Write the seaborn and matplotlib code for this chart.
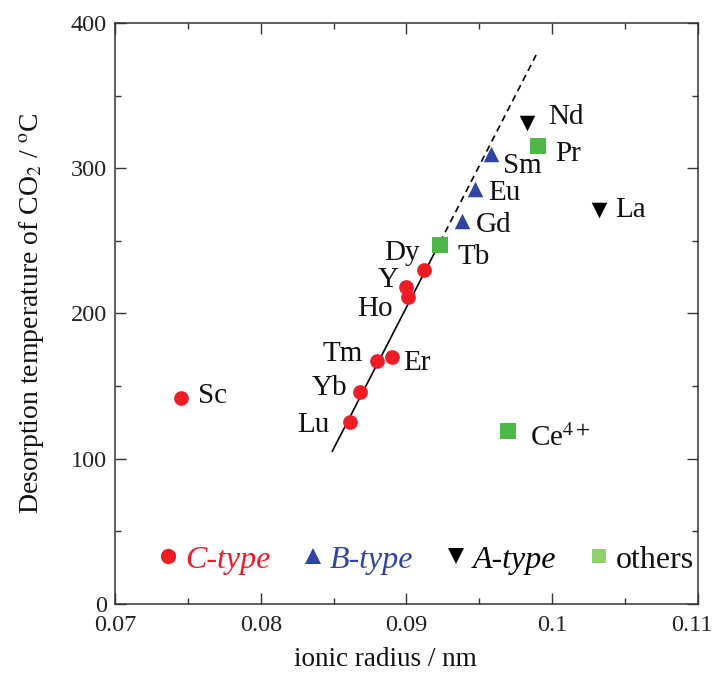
import numpy as np
import pandas as pd
import matplotlib
matplotlib.use("Agg")
import matplotlib.pyplot as plt
import matplotlib.transforms as mtransforms
from matplotlib.lines import Line2D
import seaborn as sns

# ---------------- data ----------------
c_names = ["Sc", "Lu", "Yb", "Tm", "Er", "Y", "Ho", "Dy"]
c_radius = [0.0745, 0.0861, 0.0868, 0.0880, 0.0890, 0.0900, 0.0901, 0.0912]
c_temp = [142, 125, 146, 167, 170, 218, 211, 230]

b_names = ["Gd", "Eu", "Sm"]
b_radius = [0.0938, 0.0947, 0.0958]
b_temp = [264, 286, 310]

a_names = ["Nd", "La"]
a_radius = [0.0983, 0.1032]
a_temp = [331, 271]

o_names = ["Tb", "Pr", "Ce$^{4+}$"]
o_radius = [0.0923, 0.0990, 0.0970]
o_temp = [247, 315, 119]

fit_solid_x = [0.0849, 0.0923]
fit_solid_y = [105, 249]
fit_dash_x = [0.0923, 0.0989]
fit_dash_y = [249, 378]

x_ticks = [0.07, 0.08, 0.09, 0.10, 0.11]
x_tick_labels = ["0.07", "0.08", "0.09", "0.1", "0.11"]
y_ticks = [0, 100, 200, 300, 400]
y_tick_labels = ["0", "100", "200", "300", "400"]

legend_labels = ["C-type", "B-type", "A-type", "others"]

# ---------------- style ----------------
sns.set_style("ticks")
plt.rcParams["font.family"] = ["Liberation Serif", "DejaVu Serif"]
plt.rcParams["mathtext.fontset"] = "stix"

RED = "#ee1c25"
BLUE = "#2e45a3"
BLACK = "#000000"
GREEN = "#4db848"
GREEN_LEG = "#8fd06b"

fig = plt.figure(figsize=(7.15, 6.77), dpi=100)
ax = fig.add_axes([0.161, 0.108, 0.815, 0.858])

# fit lines
sns.lineplot(x=fit_solid_x, y=fit_solid_y, ax=ax, color="black", lw=1.2, zorder=1)
sns.lineplot(x=fit_dash_x, y=fit_dash_y, ax=ax, color="black", lw=1.2,
             linestyle=(0, (4, 2.8)), zorder=1)

# points
sns.scatterplot(x=c_radius, y=c_temp, ax=ax, marker="o", s=112, color=RED,
                linewidth=0, zorder=3)
sns.scatterplot(x=b_radius, y=b_temp, ax=ax, marker="^", s=125, color=BLUE,
                linewidth=0, zorder=3)
sns.scatterplot(x=a_radius, y=a_temp, ax=ax, marker="v", s=125, color=BLACK,
                linewidth=0, zorder=3)
sns.scatterplot(x=o_radius, y=o_temp, ax=ax, marker="s", s=118, color=GREEN,
                linewidth=0, zorder=3)

# labels (offsets in pixels, layout only)
label_offsets = {
    "Sc": (17, 2, "left"), "Lu": (-20, -3, "right"), "Yb": (-13, 4, "right"),
    "Tm": (-15, 7, "right"), "Er": (11, -6, "left"), "Y": (-8, 7, "right"),
    "Ho": (-15, -12, "right"), "Dy": (-4, 17, "right"),
    "Gd": (14, -4, "left"), "Eu": (13, -4, "left"), "Sm": (12, -12, "left"),
    "Nd": (21, 6, "left"), "La": (16, 0, "left"),
    "Tb": (18, -12, "left"), "Pr": (18, -8, "left"), "Ce$^{4+}$": (22, -7, "left"),
}
for names, xs, ys in [(c_names, c_radius, c_temp), (b_names, b_radius, b_temp),
                      (a_names, a_radius, a_temp), (o_names, o_radius, o_temp)]:
    for n, xv, yv in zip(names, xs, ys):
        dx, dy, ha = label_offsets[n]
        ax.annotate(n, (xv, yv), xytext=(dx, dy), textcoords="offset pixels",
                    ha=ha, va="center", fontsize=21, color="#111111")

# axes
ax.set_xlim(0.07, 0.11)
ax.set_ylim(0, 400)
ax.set_xticks(x_ticks)
ax.set_xticklabels(x_tick_labels)
ax.set_yticks(y_ticks)
ax.set_yticklabels(y_tick_labels)
ax.set_xticks(np.arange(0.075, 0.11, 0.01), minor=True)
ax.set_yticks(np.arange(50, 400, 100), minor=True)
ax.tick_params(which="both", direction="in", top=True, right=True,
               color="#333333", width=1.0)
ax.tick_params(which="major", length=8, labelsize=17.5, labelcolor="#222222")
ax.tick_params(axis="x", which="major", pad=8)
ax.tick_params(axis="y", which="major", pad=6)
ax.tick_params(which="minor", length=4)
for sp in ax.spines.values():
    sp.set_visible(True)
    sp.set_linewidth(1.1)
    sp.set_color("#333333")

# nudge the last x tick label so it stays inside the figure
last = ax.get_xticklabels()[-1]
last.set_transform(last.get_transform() +
                   mtransforms.ScaledTranslation(-6 / 100, 0, fig.dpi_scale_trans))

ax.set_xlabel("ionic radius / nm", fontsize=19.5, color="#111111", labelpad=8)
ax.xaxis.set_label_coords(0.463, -0.075)
ax.set_ylabel("Desorption temperature of CO$_2$ / $^{\\mathrm{o}}$C", fontsize=20,
              color="#111111", labelpad=18)

# legend
handles = [
    Line2D([], [], marker="o", ls="none", color=RED, markersize=11, mew=0),
    Line2D([], [], marker="^", ls="none", color=BLUE, markersize=11, mew=0),
    Line2D([], [], marker="v", ls="none", color=BLACK, markersize=11, mew=0),
    Line2D([], [], marker="s", ls="none", color=GREEN_LEG, markersize=10.5, mew=0),
]
leg = ax.legend(handles, legend_labels, ncol=4, frameon=False, loc="center left",
                bbox_to_anchor=(0.077, 0.0757), fontsize=23, handlelength=0.5,
                handletextpad=0.28, columnspacing=1.08, borderaxespad=0,
                borderpad=0)
leg_colors = [RED, BLUE, BLACK, "#111111"]
for i, (t, c) in enumerate(zip(leg.get_texts(), leg_colors)):
    t.set_color(c)
    if i < 3:
        t.set_fontstyle("italic")

fig.savefig("out.png", dpi=100)
